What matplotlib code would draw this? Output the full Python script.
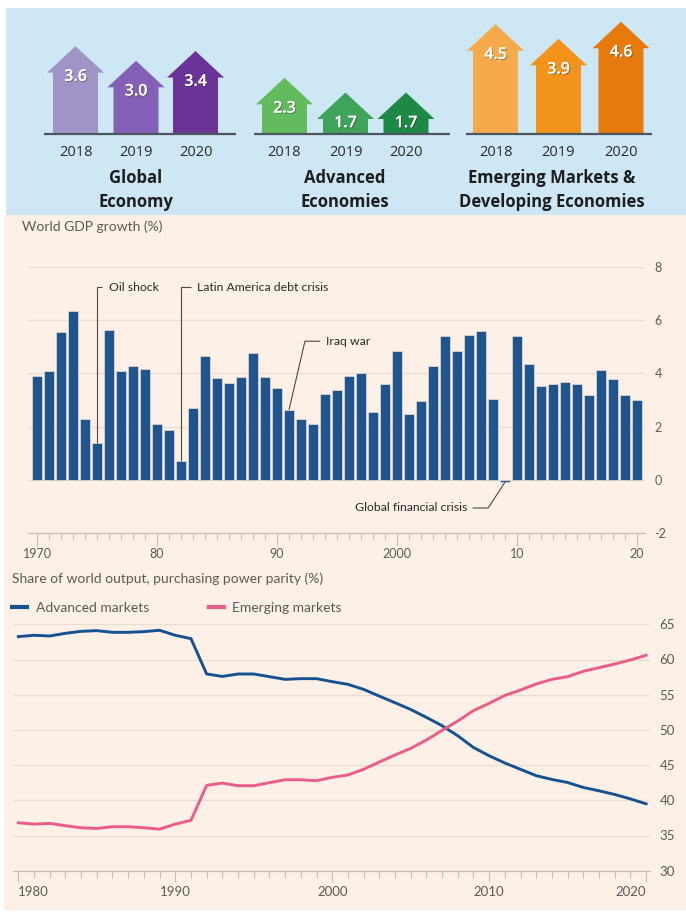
import matplotlib
matplotlib.use("Agg")
import matplotlib.pyplot as plt
import matplotlib.patheffects as pe
from matplotlib.patches import Polygon, Rectangle
from matplotlib.lines import Line2D
from matplotlib.ticker import MultipleLocator, FixedLocator

plt.rcParams["font.family"] = ["Lato", "DejaVu Sans"]

# ---------------- data ----------------
outlook_years = ["2018", "2019", "2020"]
outlook_groups = ["Global\nEconomy", "Advanced\nEconomies", "Emerging Markets &\nDeveloping Economies"]
global_growth = [3.6, 3.0, 3.4]
advanced_growth = [2.3, 1.7, 1.7]
emerging_growth = [4.5, 3.9, 4.6]

gdp_years = list(range(1970, 2021))
gdp_growth = [3.9, 4.1, 5.55, 6.33, 2.3, 1.4, 5.63, 4.1, 4.29, 4.15,
              2.11, 1.88, 0.7, 2.7, 4.65, 3.81, 3.65, 3.85, 4.75, 3.85,
              3.44, 2.63, 2.28, 2.08, 3.24, 3.39, 3.9, 4.0, 2.54, 3.59,
              4.83, 2.49, 2.95, 4.28, 5.4, 4.86, 5.46, 5.61, 3.03, -0.09,
              5.4, 4.35, 3.51, 3.61, 3.66, 3.61, 3.19, 4.11, 3.8, 3.2, 3.0]
gdp_tick_years = [1970, 1980, 1990, 2000, 2010, 2020]
gdp_tick_labels = ["1970", "80", "90", "2000", "10", "20"]

ppp_years = list(range(1980, 2021))
advanced_share = [63.25, 63.44, 63.34, 63.72, 64.0, 64.1, 63.86, 63.86, 63.96, 64.15,
                  63.44, 62.96, 57.94, 57.6, 57.94, 57.94, 57.56, 57.18, 57.28, 57.28,
                  56.85, 56.47, 55.76, 54.8, 53.86, 52.9, 51.78, 50.6, 49.17, 47.5,
                  46.33, 45.3, 44.4, 43.5, 42.96, 42.53, 41.82, 41.35, 40.83, 40.2, 39.5]
emerging_share = [36.81, 36.62, 36.72, 36.39, 36.1, 36.0, 36.25, 36.25, 36.1, 35.9,
                  36.62, 37.15, 42.12, 42.45, 42.07, 42.07, 42.5, 42.92, 42.92, 42.78,
                  43.26, 43.6, 44.4, 45.43, 46.43, 47.37, 48.56, 49.93, 51.26, 52.73,
                  53.77, 54.9, 55.66, 56.52, 57.18, 57.56, 58.32, 58.84, 59.36, 59.93, 60.6]
ppp_tick_years = [1980, 1990, 2000, 2010, 2020]

# ---------------- styling ----------------
W, H = 686, 915
SKY = "#cde7f4"
PAPER = "#fdf0e6"
INK = "#5f5955"
GRID = "#eadccf"
AXIS = "#cbbdb1"
BAR = "#1f558c"
BLUE = "#16528f"
PINK = "#ea5d8b"
TEXT_DARK = "#2b2b2b"
PANEL_FONT = ["Open Sans", "DejaVu Sans"]

fig = plt.figure(figsize=(W / 100, H / 100), dpi=100, facecolor="white")


def px_axes(x0, y0, x1, y1):
    """Axes placed by pixel box (top-left origin)."""
    return fig.add_axes([x0 / W, 1 - y1 / H, (x1 - x0) / W, (y1 - y0) / H])


# background panels
bg = px_axes(0, 0, W, H)
bg.set_xlim(0, W)
bg.set_ylim(H, 0)
bg.axis("off")
bg.add_patch(Rectangle((6, 8), W - 6, 207, facecolor=SKY, edgecolor="none"))
bg.add_patch(Rectangle((4, 215), W - 4, 695, facecolor=PAPER, edgecolor="none"))

# ---------------- growth outlook arrows ----------------
PX_PER_UNIT = 24.4
top = px_axes(6, 8, W, 215)
top.set_xlim(6, W)
top.set_ylim((134 - 215) / PX_PER_UNIT, (134 - 8) / PX_PER_UNIT)
top.axis("off")

group_values = [global_growth, advanced_growth, emerging_growth]
group_centres = [[75.5, 136, 195.5], [284.5, 345.5, 406], [495.5, 558.5, 621]]
group_baselines = [(44, 236), (254, 450), (466, 652)]
group_title_x = [136, 345, 552]
group_colours = [["#a094c6", "#8461b6", "#6b3398"],
                 ["#62bb5d", "#3fa35a", "#1d8944"],
                 ["#f6aa4c", "#f2941b", "#e77a0d"]]
shaft_hw, head_hw = 22.5, 28.5
head_h = 26.5 / PX_PER_UNIT

for vals, centres, (b0, b1), cols, title, tx in zip(group_values, group_centres, group_baselines,
                                                    group_colours, outlook_groups, group_title_x):
    for v, cx, col, yr in zip(vals, centres, cols, outlook_years):
        shoulder = v - head_h
        pts = [(cx - shaft_hw, 0), (cx - shaft_hw, shoulder), (cx - head_hw, shoulder),
               (cx, v), (cx + head_hw, shoulder), (cx + shaft_hw, shoulder), (cx + shaft_hw, 0)]
        top.add_patch(Polygon(pts, closed=True, facecolor=col, edgecolor="none", zorder=2))
        top.text(cx, shoulder - 0.17, f"{v:.1f}", ha="center", va="center", color="white",
                 fontsize=11.5, fontweight="semibold", family=PANEL_FONT, zorder=4,
                 path_effects=[pe.withSimplePatchShadow(offset=(0.8, -0.8), shadow_rgbFace="#3a3a3a", alpha=0.45),
                               pe.Normal()])
        top.text(cx, (134 - 153) / PX_PER_UNIT, yr, ha="center", va="center",
                 color=TEXT_DARK, fontsize=10.5, family=PANEL_FONT)
    top.plot([b0, b1], [0, 0], color="#4c5660", lw=1.6, zorder=3, solid_capstyle="butt")
    top.text(tx, (134 - 190) / PX_PER_UNIT, title, ha="center", va="center", color="#1e1e1e",
             fontsize=12, fontweight="bold", family=PANEL_FONT, linespacing=1.4,
             multialignment="center")

# ---------------- world GDP growth bars ----------------
fig.text(22 / W, 1 - 227 / H, "World GDP growth (%)", ha="left", va="center", color=INK, fontsize=10)

ax1 = px_axes(28, 267, 645, 533)
ax1.set_facecolor("none")
ax1.set_xlim(1969.25, 2020.67)
ax1.set_ylim(-2, 8)
ax1.bar(gdp_years, gdp_growth, width=0.8, color=BAR, edgecolor="#e9ddd3", linewidth=0.5, zorder=3)

ax1.yaxis.set_major_locator(MultipleLocator(2))
ax1.yaxis.tick_right()
ax1.tick_params(axis="y", length=0, pad=7, labelsize=9, labelcolor=INK)
ax1.grid(axis="y", color=GRID, lw=0.9, zorder=0)
ax1.set_yticklabels([f"{int(t)}" for t in ax1.get_yticks()])
ax1.xaxis.set_major_locator(FixedLocator(gdp_tick_years))
ax1.set_xticklabels(gdp_tick_labels)
ax1.xaxis.set_minor_locator(MultipleLocator(1))
ax1.tick_params(axis="x", which="major", length=9, width=0.8, color=AXIS, pad=2,
                labelsize=9, labelcolor=INK)
ax1.tick_params(axis="x", which="minor", length=5, width=0.8, color=AXIS)
for s in ["top", "left", "right"]:
    ax1.spines[s].set_visible(False)
ax1.spines["bottom"].set_color(AXIS)
ax1.spines["bottom"].set_linewidth(0.9)

LEAD = "#4d4845"
ann_kw = dict(color=LEAD, lw=0.8, zorder=4, solid_capstyle="butt")
txt_kw = dict(color="#2d2a28", fontsize=8.8, va="center", zorder=5)
# Oil shock
ax1.plot([1975, 1975, 1975.45], [gdp_growth[5], 7.24, 7.24], **ann_kw)
ax1.text(1976.0, 7.24, "Oil shock", ha="left", **txt_kw)
# Latin America debt crisis
ax1.plot([1982, 1982, 1982.8], [gdp_growth[12], 7.24, 7.24], **ann_kw)
ax1.text(1983.3, 7.24, "Latin America debt crisis", ha="left", **txt_kw)
# Iraq war
ax1.plot([1991, 1992.33, 1993.6], [gdp_growth[21], 5.21, 5.21], **ann_kw)
ax1.text(1994.1, 5.21, "Iraq war", ha="left", **txt_kw)
# Global financial crisis
ax1.plot([2009, 2007.6, 2006.3], [gdp_growth[39], -1.06, -1.06], **ann_kw)
ax1.text(2005.85, -1.06, "Global financial crisis", ha="right", **txt_kw)

# ---------------- share of world output lines ----------------
fig.text(12 / W, 1 - 579 / H, "Share of world output, purchasing power parity (%)",
         ha="left", va="center", color=INK, fontsize=10)

ax2 = px_axes(13, 624.3, 650, 870.7)
ax2.set_facecolor("none")
ax2.set_xlim(1979.66, 2020.25)
ax2.set_ylim(30, 65)
ax2.plot(ppp_years, advanced_share, color=BLUE, lw=2.1, zorder=3, solid_joinstyle="round")
ax2.plot(ppp_years, emerging_share, color=PINK, lw=2.1, zorder=3, solid_joinstyle="round")

ax2.yaxis.set_major_locator(MultipleLocator(5))
ax2.yaxis.tick_right()
ax2.tick_params(axis="y", length=0, pad=7, labelsize=9.5, labelcolor=INK)
ax2.grid(axis="y", color=GRID, lw=0.9, zorder=0)
ax2.xaxis.set_major_locator(FixedLocator(ppp_tick_years))
ax2.xaxis.set_minor_locator(MultipleLocator(1))
ax2.tick_params(axis="x", which="major", length=8, width=0.8, color=AXIS, pad=3,
                labelsize=9.5, labelcolor=INK)
ax2.tick_params(axis="x", which="minor", length=5, width=0.8, color=AXIS)
ax2.set_xticklabels([str(y) for y in ppp_tick_years])
xl = ax2.get_xticklabels()
xl[0].set_ha("left")
xl[-1].set_ha("right")
for s in ["top", "left", "right"]:
    ax2.spines[s].set_visible(False)
ax2.spines["bottom"].set_color(AXIS)
ax2.spines["bottom"].set_linewidth(0.9)

handles = [Line2D([], [], color=BLUE, lw=3), Line2D([], [], color=PINK, lw=3)]
fig.legend(handles, ["Advanced markets", "Emerging markets"], loc="center left",
           bbox_to_anchor=(12 / W, 1 - 607.7 / H), ncol=2, frameon=False,
           borderaxespad=0, borderpad=0, handlelength=1.1, handletextpad=0.6,
           columnspacing=4.3, fontsize=10, labelcolor=INK)

fig.savefig("out.png", dpi=100, facecolor="white")
